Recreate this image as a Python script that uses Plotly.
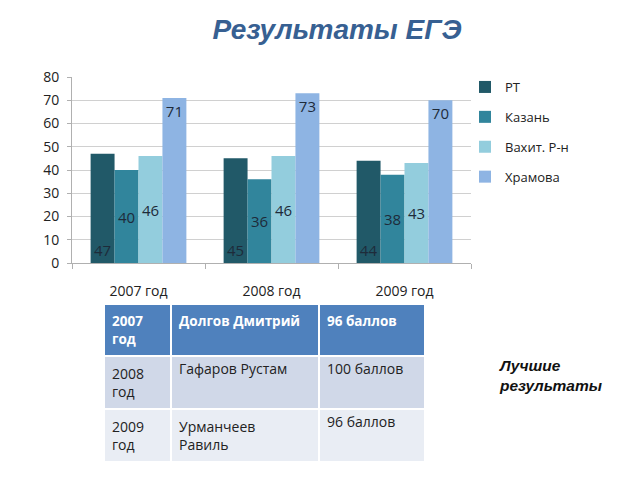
import plotly.graph_objects as go

categories = ["2007 год", "2008 год", "2009 год"]
series_names = ["РТ", "Казань", "Вахит. Р-н", "Храмова"]
values_rt = [47, 45, 44]
values_kazan = [40, 36, 38]
values_vahit = [46, 46, 43]
values_khramova = [71, 73, 70]

table_years = ["2008<br>год", "2009<br>год"]
table_names = ["Гафаров Рустам", "Урманчеев<br>Равиль"]
table_scores = ["100 баллов", "96 баллов"]
header_cells = ["<b>2007<br>год</b>", "<b>Долгов Дмитрий</b>", "<b>96 баллов</b>"]

colors = ["#215968", "#31859C", "#93CDDD", "#8EB4E3"]
anchors = ["start", "middle", "middle", "end"]
all_values = [values_rt, values_kazan, values_vahit, values_khramova]

FONT = "Open Sans"

fig = go.Figure()
for i, (name, vals) in enumerate(zip(series_names, all_values)):
    fig.add_trace(go.Bar(
        x=categories, y=vals, name=name,
        marker=dict(color=colors[i], line=dict(width=0)),
        text=[str(v) for v in vals],
        textposition="inside",
        insidetextanchor=anchors[i],
        textangle=0,
        textfont=dict(family=FONT, size=15, color="#1e2b3a"),
        legendgroup=name,
    ))

fig.add_trace(go.Table(
    domain=dict(x=[104/640, 425/640], y=[1-465/480, 1-304/480]),
    columnwidth=[67, 148, 106],
    header=dict(
        values=header_cells,
        fill_color="#4F81BD",
        font=dict(family=FONT, size=13.5, color="white"),
        align="left",
        line=dict(color="white", width=2),
        height=41,
    ),
    cells=dict(
        values=[table_years, table_names, table_scores],
        fill_color=[["#D0D8E8", "#E9EDF4"]] * 3,
        font=dict(family=FONT, size=14, color="#222222"),
        align="left",
        line=dict(color="white", width=2),
        height=44,
    ),
))

fig.update_layout(
    width=640, height=480,
    margin=dict(l=0, r=0, t=0, b=0),
    paper_bgcolor="white", plot_bgcolor="white",
    barmode="group", bargap=0.28, bargroupgap=0,
    title=dict(
        text="<b><i>Результаты ЕГЭ</i></b>",
        x=337/640, xanchor="center", y=1-29/480, yanchor="middle",
        font=dict(family="Liberation Sans", size=28, color="#376092"),
    ),
    xaxis=dict(
        domain=[72/640, 471/640], automargin=False,
        showline=True, linecolor="#b0b0b0", linewidth=1,
        ticks="outside", tickson="boundaries", ticklen=5, tickcolor="#b0b0b0",
        ticklabelstandoff=15,
        tickfont=dict(family=FONT, size=14, color="#222222"),
        showgrid=False,
    ),
    yaxis=dict(
        domain=[1-263/480, 1-77/480], automargin=False,
        range=[0, 80], dtick=10,
        showline=True, linecolor="#b0b0b0", linewidth=1,
        ticks="outside", ticklen=4, tickcolor="#b0b0b0",
        ticklabelstandoff=5,
        gridcolor="#d0d0d0", gridwidth=1,
        zeroline=False,
        tickfont=dict(family=FONT, size=14, color="#222222"),
    ),
    legend=dict(
        x=465/640, xanchor="left", y=1-72/480, yanchor="top",
        font=dict(family=FONT, size=13, color="#222222"),
        tracegroupgap=10,
        itemwidth=30,
        bgcolor="rgba(0,0,0,0)",
    ),
    showlegend=True,
    annotations=[dict(
        text="<b><i>Лучшие<br>результаты</i></b>",
        x=497/640, xanchor="left", y=1-375/480, yanchor="middle",
        xref="paper", yref="paper", showarrow=False, align="left",
        font=dict(family="Liberation Sans", size=15.5, color="#111111"),
    )],
)

fig.write_html("out.html")
